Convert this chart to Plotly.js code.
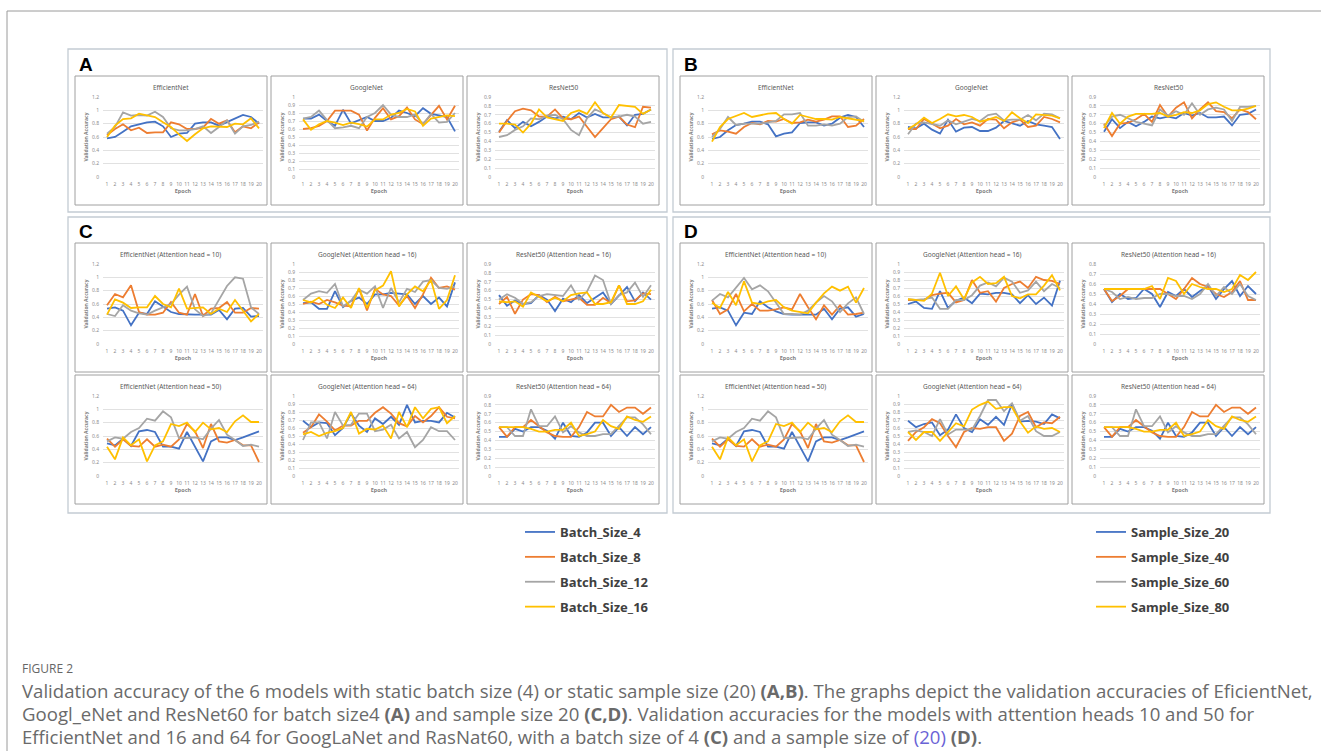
<!DOCTYPE html>
<html>
<head>
<meta charset="utf-8">
<script src="https://cdn.plot.ly/plotly-3.0.1.min.js"></script>
<style>html,body{margin:0;padding:0;background:#fff;}#chart{width:1321px;height:751px;}</style>
</head>
<body>
<div id="chart"></div>
<script>
// ---------- data ----------
const epochs = [1,2,3,4,5,6,7,8,9,10,11,12,13,14,15,16,17,18,19,20];
const batchNames = ['Batch_Size_4','Batch_Size_8','Batch_Size_12','Batch_Size_16'];
const sampleNames = ['Sample_Size_20','Sample_Size_40','Sample_Size_60','Sample_Size_80'];
const subplotTitles = ['EfficientNet','GoogleNet','ResNet50',
  'EfficientNet (Attention head = 10)','GoogleNet (Attention head = 16)','ResNet50 (Attention head = 16)',
  'EfficientNet (Attention head = 50)','GoogleNet (Attention head = 64)','ResNet50 (Attention head = 64)'];

// Panel A (batch size 4 static)
const A_Eff_1 = [0.58,0.60,0.68,0.76,0.79,0.82,0.83,0.76,0.60,0.65,0.66,0.80,0.82,0.82,0.77,0.82,0.88,0.93,0.90,0.80];
const A_Eff_2 = [0.63,0.72,0.79,0.70,0.74,0.66,0.67,0.67,0.82,0.79,0.72,0.72,0.74,0.87,0.80,0.85,0.67,0.76,0.73,0.82];
const A_Eff_3 = [0.65,0.75,0.97,0.92,0.93,0.92,0.98,0.90,0.73,0.70,0.70,0.72,0.76,0.66,0.75,0.85,0.65,0.76,0.78,0.83];
const A_Eff_4 = [0.60,0.77,0.87,0.88,0.95,0.93,0.90,0.82,0.75,0.64,0.54,0.64,0.73,0.76,0.76,0.75,0.80,0.79,0.88,0.73];
const A_Goo_1 = [0.73,0.73,0.78,0.70,0.64,0.84,0.67,0.71,0.75,0.70,0.70,0.74,0.83,0.80,0.76,0.86,0.79,0.77,0.75,0.57];
const A_Goo_2 = [0.60,0.61,0.64,0.70,0.83,0.83,0.83,0.78,0.58,0.74,0.86,0.72,0.76,0.87,0.72,0.66,0.78,0.89,0.72,0.89];
const A_Goo_3 = [0.73,0.75,0.83,0.71,0.61,0.62,0.64,0.61,0.75,0.80,0.90,0.78,0.75,0.75,0.78,0.66,0.79,0.68,0.69,0.80];
const A_Goo_4 = [0.72,0.59,0.66,0.70,0.68,0.65,0.68,0.66,0.63,0.72,0.72,0.78,0.80,0.85,0.82,0.64,0.73,0.75,0.77,0.76];
const A_Res_1 = [0.51,0.64,0.55,0.62,0.57,0.62,0.68,0.66,0.68,0.65,0.72,0.67,0.71,0.67,0.67,0.68,0.58,0.70,0.71,0.76];
const A_Res_2 = [0.50,0.63,0.74,0.77,0.75,0.68,0.68,0.76,0.66,0.65,0.68,0.57,0.45,0.55,0.65,0.68,0.59,0.56,0.79,0.78];
const A_Res_3 = [0.45,0.47,0.53,0.57,0.66,0.65,0.69,0.70,0.65,0.53,0.47,0.66,0.76,0.72,0.67,0.68,0.70,0.68,0.60,0.62];
const A_Res_4 = [0.60,0.60,0.59,0.50,0.60,0.76,0.67,0.65,0.63,0.72,0.75,0.71,0.84,0.72,0.67,0.81,0.80,0.79,0.71,0.76];

// Panel B (sample size 20 static)
const B_Eff_1 = [0.57,0.60,0.70,0.78,0.80,0.83,0.83,0.79,0.61,0.65,0.67,0.81,0.82,0.82,0.77,0.80,0.89,0.93,0.90,0.75];
const B_Eff_2 = [0.64,0.70,0.68,0.65,0.75,0.81,0.79,0.84,0.83,0.87,0.81,0.82,0.86,0.83,0.86,0.91,0.91,0.75,0.77,0.87];
const B_Eff_3 = [0.60,0.72,0.90,0.78,0.80,0.80,0.80,0.82,0.84,0.94,0.94,0.96,0.77,0.77,0.79,0.77,0.80,0.90,0.91,0.83];
const B_Eff_4 = [0.53,0.75,0.87,0.91,0.96,0.90,0.93,0.95,0.96,0.87,0.80,0.93,0.90,0.87,0.87,0.86,0.90,0.88,0.86,0.84];
const B_Goo_1 = [0.75,0.73,0.80,0.71,0.65,0.86,0.68,0.74,0.75,0.69,0.69,0.74,0.84,0.80,0.77,0.84,0.79,0.77,0.75,0.57];
const B_Goo_2 = [0.72,0.72,0.87,0.80,0.73,0.77,0.87,0.79,0.82,0.77,0.87,0.86,0.73,0.82,0.86,0.75,0.77,0.90,0.87,0.82];
const B_Goo_3 = [0.64,0.80,0.82,0.80,0.77,0.85,0.79,0.83,0.87,0.84,0.93,0.95,0.85,0.86,0.86,0.93,0.85,0.95,0.94,0.88];
const B_Goo_4 = [0.72,0.79,0.89,0.81,0.87,0.94,0.91,0.93,0.90,0.83,0.86,0.90,0.84,0.97,0.88,0.81,0.94,0.93,0.92,0.88];
const B_Res_1 = [0.51,0.65,0.55,0.62,0.57,0.62,0.68,0.66,0.68,0.66,0.72,0.69,0.72,0.67,0.67,0.68,0.58,0.70,0.71,0.76];
const B_Res_2 = [0.60,0.46,0.60,0.61,0.65,0.71,0.62,0.81,0.68,0.78,0.84,0.66,0.76,0.84,0.74,0.73,0.66,0.76,0.73,0.65];
const B_Res_3 = [0.57,0.68,0.70,0.66,0.62,0.60,0.58,0.76,0.69,0.74,0.70,0.83,0.70,0.76,0.78,0.76,0.63,0.79,0.79,0.80];
const B_Res_4 = [0.55,0.72,0.60,0.68,0.71,0.71,0.71,0.72,0.68,0.70,0.73,0.72,0.75,0.82,0.84,0.79,0.75,0.75,0.77,0.80];

// Panel C (batch size 4, attention heads)
const C_Eff10_1 = [0.53,0.55,0.50,0.28,0.47,0.45,0.64,0.56,0.48,0.45,0.44,0.44,0.44,0.44,0.51,0.37,0.53,0.54,0.41,0.42];
const C_Eff10_2 = [0.58,0.75,0.70,0.88,0.48,0.44,0.44,0.47,0.63,0.47,0.44,0.75,0.42,0.53,0.54,0.63,0.47,0.47,0.54,0.53];
const C_Eff10_3 = [0.45,0.42,0.58,0.50,0.46,0.44,0.50,0.55,0.60,0.74,0.86,0.52,0.42,0.46,0.66,0.87,1.00,0.98,0.55,0.45];
const C_Eff10_4 = [0.44,0.67,0.62,0.54,0.55,0.55,0.72,0.60,0.55,0.83,0.53,0.54,0.55,0.45,0.53,0.48,0.66,0.50,0.34,0.45];
const C_Goo16_1 = [0.51,0.52,0.44,0.44,0.66,0.46,0.54,0.58,0.50,0.62,0.62,0.64,0.63,0.62,0.50,0.60,0.50,0.58,0.47,0.77];
const C_Goo16_2 = [0.50,0.53,0.50,0.55,0.52,0.48,0.47,0.69,0.42,0.69,0.62,0.60,0.48,0.60,0.45,0.62,0.83,0.70,0.72,0.68];
const C_Goo16_3 = [0.55,0.63,0.66,0.64,0.75,0.47,0.54,0.68,0.63,0.72,0.45,0.70,0.52,0.69,0.65,0.78,0.80,0.70,0.69,0.72];
const C_Goo16_4 = [0.55,0.52,0.58,0.49,0.45,0.58,0.45,0.70,0.45,0.67,0.73,0.91,0.47,0.62,0.72,0.66,0.80,0.44,0.55,0.86];
const C_Res16_1 = [0.55,0.43,0.49,0.45,0.46,0.55,0.50,0.37,0.51,0.47,0.55,0.46,0.52,0.58,0.45,0.55,0.64,0.48,0.58,0.50];
const C_Res16_2 = [0.45,0.53,0.34,0.50,0.56,0.55,0.47,0.53,0.48,0.50,0.52,0.44,0.44,0.52,0.46,0.66,0.48,0.49,0.57,0.56];
const C_Res16_3 = [0.50,0.56,0.52,0.45,0.47,0.54,0.56,0.55,0.54,0.66,0.50,0.59,0.77,0.72,0.45,0.55,0.58,0.69,0.53,0.66];
const C_Res16_4 = [0.48,0.47,0.48,0.42,0.58,0.53,0.48,0.52,0.48,0.55,0.57,0.58,0.45,0.45,0.47,0.66,0.45,0.45,0.48,0.61];
const C_Eff50_1 = [0.49,0.46,0.56,0.45,0.67,0.69,0.66,0.44,0.44,0.41,0.66,0.45,0.22,0.52,0.58,0.58,0.54,0.58,0.62,0.67];
const C_Eff50_2 = [0.56,0.44,0.55,0.45,0.44,0.55,0.44,0.47,0.44,0.55,0.78,0.67,0.42,0.78,0.52,0.50,0.54,0.46,0.46,0.21];
const C_Eff50_3 = [0.52,0.58,0.56,0.66,0.72,0.86,0.83,0.97,0.88,0.57,0.57,0.58,0.55,0.71,0.84,0.62,0.54,0.45,0.47,0.44];
const C_Eff50_4 = [0.44,0.25,0.58,0.46,0.55,0.22,0.46,0.52,0.78,0.75,0.80,0.66,0.80,0.70,0.72,0.66,0.82,0.91,0.81,0.81];
const C_Goo64_1 = [0.69,0.61,0.67,0.66,0.51,0.60,0.78,0.63,0.55,0.72,0.65,0.74,0.64,0.89,0.67,0.69,0.69,0.67,0.79,0.73];
const C_Goo64_2 = [0.54,0.61,0.77,0.68,0.57,0.63,0.63,0.69,0.69,0.79,0.86,0.78,0.66,0.62,0.75,0.67,0.75,0.86,0.74,0.72];
const C_Goo64_3 = [0.45,0.67,0.67,0.47,0.80,0.63,0.64,0.78,0.78,0.56,0.58,0.64,0.47,0.55,0.36,0.45,0.61,0.56,0.56,0.45];
const C_Goo64_4 = [0.52,0.55,0.50,0.54,0.56,0.60,0.80,0.53,0.59,0.58,0.63,0.47,0.80,0.61,0.86,0.72,0.84,0.86,0.66,0.75];
const C_Res64_1 = [0.44,0.44,0.53,0.50,0.55,0.55,0.51,0.42,0.60,0.45,0.44,0.49,0.60,0.60,0.45,0.55,0.45,0.55,0.47,0.55];
const C_Res64_2 = [0.55,0.44,0.55,0.55,0.63,0.56,0.49,0.45,0.44,0.44,0.55,0.72,0.67,0.67,0.80,0.72,0.77,0.77,0.70,0.77];
const C_Res64_3 = [0.55,0.55,0.45,0.45,0.75,0.56,0.56,0.67,0.49,0.56,0.49,0.45,0.45,0.47,0.47,0.56,0.66,0.66,0.58,0.47];
const C_Res64_4 = [0.55,0.55,0.55,0.55,0.53,0.50,0.50,0.52,0.52,0.60,0.45,0.47,0.50,0.63,0.56,0.53,0.67,0.63,0.61,0.67];

// Panel D (sample size 20, attention heads)
const D_Eff10_1 = [0.53,0.55,0.50,0.28,0.47,0.45,0.64,0.55,0.49,0.45,0.44,0.44,0.44,0.44,0.53,0.37,0.53,0.55,0.41,0.45];
const D_Eff10_2 = [0.66,0.45,0.52,0.75,0.49,0.60,0.50,0.50,0.52,0.55,0.52,0.75,0.55,0.37,0.58,0.44,0.58,0.44,0.45,0.47];
const D_Eff10_3 = [0.65,0.75,0.70,0.84,0.99,0.82,0.88,0.79,0.62,0.45,0.45,0.44,0.50,0.62,0.72,0.64,0.48,0.61,0.70,0.45];
const D_Eff10_4 = [0.62,0.54,0.78,0.58,0.94,0.62,0.60,0.64,0.66,0.55,0.50,0.48,0.46,0.62,0.76,0.86,0.80,0.86,0.62,0.84];
const D_Goo16_1 = [0.50,0.53,0.45,0.44,0.66,0.45,0.54,0.58,0.51,0.63,0.62,0.64,0.64,0.62,0.51,0.61,0.50,0.58,0.48,0.79];
const D_Goo16_2 = [0.55,0.55,0.55,0.61,0.63,0.64,0.52,0.55,0.80,0.64,0.66,0.53,0.70,0.75,0.78,0.70,0.84,0.80,0.79,0.75];
const D_Goo16_3 = [0.56,0.55,0.56,0.58,0.44,0.44,0.55,0.55,0.61,0.73,0.77,0.72,0.83,0.78,0.64,0.67,0.78,0.66,0.75,0.70];
const D_Goo16_4 = [0.56,0.55,0.54,0.63,0.89,0.60,0.72,0.56,0.77,0.84,0.75,0.76,0.84,0.60,0.57,0.62,0.62,0.73,0.86,0.67];
const D_Res16_1 = [0.55,0.42,0.50,0.45,0.46,0.55,0.50,0.37,0.52,0.48,0.55,0.47,0.53,0.58,0.45,0.55,0.63,0.48,0.58,0.50];
const D_Res16_2 = [0.55,0.43,0.48,0.55,0.55,0.55,0.55,0.55,0.50,0.45,0.55,0.66,0.60,0.57,0.50,0.47,0.52,0.63,0.44,0.44];
const D_Res16_3 = [0.55,0.52,0.45,0.47,0.45,0.46,0.46,0.50,0.50,0.48,0.48,0.45,0.50,0.60,0.48,0.57,0.50,0.60,0.48,0.44];
const D_Res16_4 = [0.55,0.55,0.55,0.55,0.55,0.55,0.58,0.45,0.66,0.63,0.50,0.60,0.57,0.55,0.55,0.52,0.55,0.69,0.64,0.72];
const D_Eff50_1 = [0.49,0.46,0.56,0.45,0.67,0.69,0.66,0.44,0.44,0.41,0.66,0.45,0.22,0.52,0.58,0.58,0.54,0.58,0.62,0.67];
const D_Eff50_2 = [0.56,0.44,0.55,0.45,0.44,0.55,0.44,0.47,0.44,0.55,0.78,0.67,0.42,0.78,0.52,0.50,0.54,0.46,0.46,0.21];
const D_Eff50_3 = [0.52,0.58,0.56,0.66,0.72,0.86,0.83,0.97,0.88,0.57,0.57,0.58,0.55,0.71,0.84,0.62,0.54,0.45,0.47,0.44];
const D_Eff50_4 = [0.44,0.25,0.58,0.46,0.55,0.22,0.46,0.52,0.78,0.75,0.80,0.66,0.80,0.70,0.72,0.66,0.82,0.91,0.81,0.81];
const D_Goo64_1 = [0.69,0.61,0.65,0.67,0.51,0.58,0.77,0.60,0.55,0.71,0.64,0.74,0.64,0.90,0.68,0.69,0.68,0.65,0.77,0.72];
const D_Goo64_2 = [0.44,0.55,0.61,0.71,0.66,0.50,0.36,0.55,0.60,0.59,0.61,0.61,0.44,0.53,0.75,0.80,0.61,0.67,0.66,0.74];
const D_Goo64_3 = [0.55,0.57,0.55,0.50,0.71,0.52,0.58,0.58,0.58,0.75,0.95,0.95,0.81,0.91,0.69,0.75,0.56,0.50,0.50,0.55];
const D_Goo64_4 = [0.55,0.45,0.55,0.55,0.44,0.55,0.66,0.62,0.83,0.89,0.93,0.84,0.86,0.86,0.68,0.54,0.62,0.59,0.60,0.55];
const D_Res64_1 = [0.44,0.44,0.53,0.50,0.55,0.55,0.51,0.42,0.60,0.45,0.44,0.49,0.60,0.60,0.45,0.55,0.45,0.55,0.47,0.55];
const D_Res64_2 = [0.55,0.44,0.55,0.55,0.63,0.56,0.49,0.45,0.44,0.44,0.55,0.72,0.67,0.67,0.80,0.72,0.77,0.77,0.70,0.77];
const D_Res64_3 = [0.55,0.55,0.45,0.45,0.75,0.56,0.56,0.67,0.49,0.56,0.49,0.45,0.45,0.47,0.47,0.56,0.66,0.66,0.58,0.47];
const D_Res64_4 = [0.55,0.55,0.55,0.55,0.53,0.50,0.50,0.52,0.52,0.60,0.45,0.47,0.50,0.63,0.56,0.53,0.67,0.63,0.61,0.67];

// ---------- layout helpers ----------
const W = 1321, H = 751;
const colors = ['#4472C4','#ED7D31','#A5A5A5','#FFC000'];
const colX = [75, 271, 467];
const sideOffset = 605;
const rowY = [76, 243, 375];
const BW = 192, BH = 129;

// subplot specs: side (0 = left panels A/C, 1 = right panels B/D), row, col, title index, y max, dtick, series
const specs = [
  {side:0,row:0,col:0,t:0,ymax:1.2,dt:0.2,s:[A_Eff_1,A_Eff_2,A_Eff_3,A_Eff_4]},
  {side:0,row:0,col:1,t:1,ymax:1.0,dt:0.1,s:[A_Goo_1,A_Goo_2,A_Goo_3,A_Goo_4]},
  {side:0,row:0,col:2,t:2,ymax:0.9,dt:0.1,s:[A_Res_1,A_Res_2,A_Res_3,A_Res_4]},
  {side:1,row:0,col:0,t:0,ymax:1.2,dt:0.2,s:[B_Eff_1,B_Eff_2,B_Eff_3,B_Eff_4]},
  {side:1,row:0,col:1,t:1,ymax:1.2,dt:0.2,s:[B_Goo_1,B_Goo_2,B_Goo_3,B_Goo_4]},
  {side:1,row:0,col:2,t:2,ymax:0.9,dt:0.1,s:[B_Res_1,B_Res_2,B_Res_3,B_Res_4]},
  {side:0,row:1,col:0,t:3,ymax:1.2,dt:0.2,s:[C_Eff10_1,C_Eff10_2,C_Eff10_3,C_Eff10_4]},
  {side:0,row:1,col:1,t:4,ymax:1.0,dt:0.1,s:[C_Goo16_1,C_Goo16_2,C_Goo16_3,C_Goo16_4]},
  {side:0,row:1,col:2,t:5,ymax:0.9,dt:0.1,s:[C_Res16_1,C_Res16_2,C_Res16_3,C_Res16_4]},
  {side:0,row:2,col:0,t:6,ymax:1.2,dt:0.2,s:[C_Eff50_1,C_Eff50_2,C_Eff50_3,C_Eff50_4]},
  {side:0,row:2,col:1,t:7,ymax:1.0,dt:0.1,s:[C_Goo64_1,C_Goo64_2,C_Goo64_3,C_Goo64_4]},
  {side:0,row:2,col:2,t:8,ymax:0.9,dt:0.1,s:[C_Res64_1,C_Res64_2,C_Res64_3,C_Res64_4]},
  {side:1,row:1,col:0,t:3,ymax:1.2,dt:0.2,s:[D_Eff10_1,D_Eff10_2,D_Eff10_3,D_Eff10_4]},
  {side:1,row:1,col:1,t:4,ymax:1.0,dt:0.1,s:[D_Goo16_1,D_Goo16_2,D_Goo16_3,D_Goo16_4]},
  {side:1,row:1,col:2,t:5,ymax:0.8,dt:0.1,s:[D_Res16_1,D_Res16_2,D_Res16_3,D_Res16_4]},
  {side:1,row:2,col:0,t:6,ymax:1.2,dt:0.2,s:[D_Eff50_1,D_Eff50_2,D_Eff50_3,D_Eff50_4]},
  {side:1,row:2,col:1,t:7,ymax:1.0,dt:0.1,s:[D_Goo64_1,D_Goo64_2,D_Goo64_3,D_Goo64_4]},
  {side:1,row:2,col:2,t:8,ymax:0.9,dt:0.1,s:[D_Res64_1,D_Res64_2,D_Res64_3,D_Res64_4]}
];

const px = v => v / W;
const py = v => 1 - v / H;

const traces = [];
const legendFont = {family:'Noto Sans', size:13, color:'#404040', weight:'bold'};
const layout = {
  width: W, height: H,
  margin: {l:0, r:0, t:0, b:0},
  paper_bgcolor: '#ffffff', plot_bgcolor: 'rgba(0,0,0,0)',
  font: {family: 'Noto Sans, Open Sans, sans-serif', color: '#595959'},
  showlegend: true,
  legend: {x: px(520), y: py(517), xanchor:'left', yanchor:'top', bgcolor:'rgba(0,0,0,0)',
    font: legendFont, traceorder:'grouped', tracegroupgap:5, itemwidth:30},
  legend2: {x: px(1091), y: py(517), xanchor:'left', yanchor:'top', bgcolor:'rgba(0,0,0,0)',
    font: legendFont, traceorder:'grouped', tracegroupgap:5, itemwidth:30},
  shapes: [], annotations: []
};

const legendShown = {0:false, 1:false};
specs.forEach((sp, k) => {
  const idx = k + 1;
  const xa = 'xaxis' + (idx === 1 ? '' : idx);
  const ya = 'yaxis' + (idx === 1 ? '' : idx);
  const xr = 'x' + (idx === 1 ? '' : idx);
  const yr = 'y' + (idx === 1 ? '' : idx);
  const bx = colX[sp.col] + sp.side * sideOffset;
  const by = rowY[sp.row];
  layout[xa] = {
    domain: [px(bx + 28), px(bx + 188)], anchor: yr,
    range: [0.5, 20.5], tickmode: 'array', tickvals: epochs, ticktext: epochs.map(String),
    tickangle: 0, ticks: '', showgrid: false, zeroline: false, showline: false,
    tickfont: {size: 5, color: '#8c8c8c'}, ticklabelstandoff: 3, fixedrange: true,
    title: {text: 'Epoch', font: {size: 5.5, color: '#7f7f7f', weight: 'bold'}, standoff: 2}
  };
  layout[ya] = {
    domain: [py(by + 101), py(by + 21)], anchor: xr,
    range: [0, sp.ymax], tick0: 0, dtick: sp.dt, ticks: '',
    showgrid: true, gridcolor: '#d9d9d9', gridwidth: 0.8, zeroline: false, showline: false,
    tickfont: {size: 5, color: '#8c8c8c'}, ticklabelstandoff: 3, fixedrange: true,
    title: {text: 'Validation Accuracy', font: {size: 5, color: '#7f7f7f', weight: 'bold'}, standoff: 3}
  };
  const names = sp.side === 0 ? batchNames : sampleNames;
  sp.s.forEach((vals, i) => {
    traces.push({
      type: 'scatter', mode: 'lines', x: epochs, y: vals,
      xaxis: xr, yaxis: yr, name: names[i], legendgroup: names[i],
      legend: sp.side === 0 ? 'legend' : 'legend2',
      showlegend: !legendShown[sp.side],
      line: {color: colors[i], width: 1.8}, hoverinfo: 'skip'
    });
  });
  legendShown[sp.side] = true;
  // subplot frame
  layout.shapes.push({type:'rect', xref:'paper', yref:'paper', x0:px(bx), x1:px(bx+BW), y0:py(by+BH), y1:py(by),
    line:{color:'#a0a0a0', width:1}, fillcolor:'rgba(0,0,0,0)', layer:'below'});
  // subplot title
  layout.annotations.push({xref:'paper', yref:'paper', x:px(bx+BW/2), y:py(by+11), xanchor:'center', yanchor:'middle',
    text: subplotTitles[sp.t], showarrow:false, font:{size:6.5, color:'#595959'}});
});

// panel frames and letters
const panels = [
  {L:'A', x0:68, x1:667, y0:49, y1:212},
  {L:'B', x0:673, x1:1270, y0:49, y1:212},
  {L:'C', x0:68, x1:667, y0:217, y1:513},
  {L:'D', x0:673, x1:1270, y0:217, y1:513}
];
panels.forEach(p => {
  layout.shapes.push({type:'rect', xref:'paper', yref:'paper', x0:px(p.x0), x1:px(p.x1), y0:py(p.y1), y1:py(p.y0),
    line:{color:'#c3cbd3', width:1.3}, fillcolor:'rgba(0,0,0,0)', layer:'below'});
  layout.annotations.push({xref:'paper', yref:'paper', x:px(p.x0+9), y:py(p.y0+15), xanchor:'left', yanchor:'middle',
    text:'<b>'+p.L+'</b>', showarrow:false, font:{family:'Liberation Sans, Arial, sans-serif', size:19, color:'#000000'}});
});

// outer page frame (top and left rules)
layout.shapes.push({type:'line', xref:'paper', yref:'paper', x0:px(7), x1:1, y0:py(11), y1:py(11), line:{color:'#9a9a9a', width:1}});
layout.shapes.push({type:'line', xref:'paper', yref:'paper', x0:px(7), x1:px(7), y0:py(11), y1:0, line:{color:'#9a9a9a', width:1}});

// caption
const capFont = {family:'Open Sans, Noto Sans, sans-serif', size:18.6, color:'#6a6a6a'};
layout.annotations.push({xref:'paper', yref:'paper', x:px(20), y:py(668), xanchor:'left', yanchor:'middle', showarrow:false,
  text:'FIGURE 2', font:{family:'Open Sans, Noto Sans, sans-serif', size:12, color:'#666666'}});
const capLines = [
  'Validation accuracy of the 6 models with static batch size (4) or static sample size (20) <b>(A,B)</b>. The graphs depict the validation accuracies of EficientNet,',
  'Googl_eNet and ResNet60 for batch size4 <b>(A)</b> and sample size 20 <b>(C,D)</b>. Validation accuracies for the models with attention heads 10 and 50 for',
  'EfficientNet and 16 and 64 for GoogLaNet and RasNat60, with a batch size of 4 <b>(C)</b> and a sample size of <span style="color:#6a63d6">(20)</span> <b>(D)</b>.'
];
const capY = [690, 713, 736];
capLines.forEach((t, i) => {
  layout.annotations.push({xref:'paper', yref:'paper', x:px(20), y:py(capY[i]), xanchor:'left', yanchor:'middle',
    showarrow:false, text:t, font:capFont, align:'left'});
});

Plotly.newPlot('chart', traces, layout, {displayModeBar:false, staticPlot:true});
</script>
</body>
</html>
